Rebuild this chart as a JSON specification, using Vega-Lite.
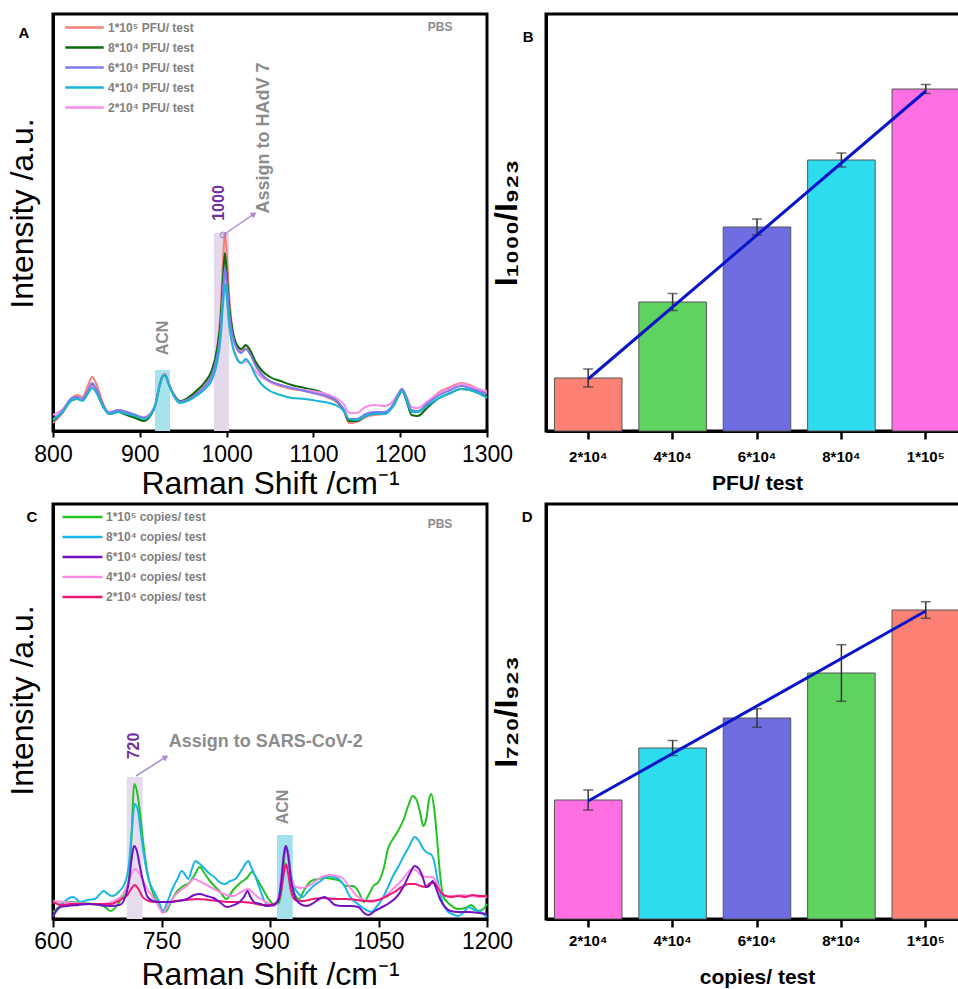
{
"$schema":"https://vega.github.io/schema/vega-lite/v6.json",
"padding":{"left":4,"top":12,"right":0,"bottom":0},
"background":"white",
"config":{"font":"Liberation Sans","view":{"stroke":"black","strokeWidth":3},
"axis":{"grid":false,"domainColor":"black","domainWidth":3,"labelColor":"black","titleColor":"black","tickColor":"black"},
"legend":{"padding":0}},
"columns":2,
"spacing":{"row":73,"column":59},
"bounds":"flush",
"resolve":{"scale":{"color":"independent","fill":"independent","x":"independent","y":"independent"},"legend":{"color":"independent","fill":"independent"}},
"concat":[
{"width":434,"height":417,
"encoding":{"x":{"field":"x","type":"quantitative","scale":{"domain":[800,1300],"nice":false},"axis":{"title":"Raman Shift /cm⁻¹","values":[800,900,1000,1100,1200,1300],"format":"d","tickSize":6,"tickWidth":2,"labelFontSize":23,"labelPadding":6,"labelFlush":false,"labelOverlap":false,"titleFontSize":32,"titleFontWeight":"normal","titlePadding":2}},
"y":{"field":"y","type":"quantitative","scale":{"domain":[0,417],"nice":false},"axis":{"title":"Intensity /a.u.","labels":false,"ticks":false,"titleFontSize":32,"titleFontWeight":"normal","titlePadding":14,"titleY":199}}},
"layer":[
{"data":{"values":[{"k":"acn","x":917.5,"x2":934.8,"y":0,"y2":61},{"k":"pk","x":985.5,"x2":1002.8,"y":0,"y2":198}]},"mark":{"type":"rect"},"encoding":{"x2":{"field":"x2"},"y2":{"field":"y2"},"fill":{"field":"k","type":"nominal","scale":{"domain":["acn","pk"],"range":["#a8e2ea","#e4d8ec"]},"legend":null}}},
{"data":{"values":[
{"s":"p5","x":800,"y":8},{"s":"p5","x":810,"y":17},{"s":"p5","x":822,"y":33},{"s":"p5","x":828,"y":36},{"s":"p5","x":834,"y":34},{"s":"p5","x":840,"y":45},{"s":"p5","x":845,"y":54},{"s":"p5","x":850,"y":47},{"s":"p5","x":857,"y":29},{"s":"p5","x":865,"y":17},{"s":"p5","x":875,"y":20},{"s":"p5","x":885,"y":18},{"s":"p5","x":895,"y":15},{"s":"p5","x":905,"y":12},{"s":"p5","x":912,"y":16},{"s":"p5","x":918,"y":27},{"s":"p5","x":922,"y":43},{"s":"p5","x":926,"y":55},{"s":"p5","x":929,"y":57},{"s":"p5","x":933,"y":48},{"s":"p5","x":939,"y":36},{"s":"p5","x":946,"y":29},{"s":"p5","x":955,"y":32},{"s":"p5","x":965,"y":39},{"s":"p5","x":975,"y":48},{"s":"p5","x":983,"y":60},{"s":"p5","x":989,"y":82},{"s":"p5","x":993,"y":118},{"s":"p5","x":996,"y":172},{"s":"p5","x":998,"y":198},{"s":"p5","x":1000,"y":180},{"s":"p5","x":1003,"y":135},{"s":"p5","x":1007,"y":100},{"s":"p5","x":1012,"y":84},{"s":"p5","x":1017,"y":80},{"s":"p5","x":1022,"y":85},{"s":"p5","x":1027,"y":79},{"s":"p5","x":1033,"y":67},{"s":"p5","x":1040,"y":57},{"s":"p5","x":1050,"y":49},{"s":"p5","x":1062,"y":45},{"s":"p5","x":1075,"y":42},{"s":"p5","x":1090,"y":40},{"s":"p5","x":1105,"y":37},{"s":"p5","x":1118,"y":33},{"s":"p5","x":1128,"y":28},{"s":"p5","x":1135,"y":20},{"s":"p5","x":1141,"y":8},{"s":"p5","x":1150,"y":9},{"s":"p5","x":1160,"y":14},{"s":"p5","x":1170,"y":16},{"s":"p5","x":1182,"y":17},{"s":"p5","x":1192,"y":26},{"s":"p5","x":1198,"y":37},{"s":"p5","x":1202,"y":42},{"s":"p5","x":1207,"y":33},{"s":"p5","x":1213,"y":19},{"s":"p5","x":1220,"y":19},{"s":"p5","x":1232,"y":29},{"s":"p5","x":1245,"y":39},{"s":"p5","x":1258,"y":44},{"s":"p5","x":1270,"y":48},{"s":"p5","x":1280,"y":46},{"s":"p5","x":1290,"y":42},{"s":"p5","x":1300,"y":38},
{"s":"p8","x":800,"y":10},{"s":"p8","x":810,"y":18},{"s":"p8","x":822,"y":31},{"s":"p8","x":828,"y":32},{"s":"p8","x":834,"y":31},{"s":"p8","x":840,"y":39},{"s":"p8","x":845,"y":46},{"s":"p8","x":850,"y":41},{"s":"p8","x":857,"y":27},{"s":"p8","x":865,"y":17},{"s":"p8","x":875,"y":19},{"s":"p8","x":885,"y":16},{"s":"p8","x":895,"y":13},{"s":"p8","x":905,"y":10},{"s":"p8","x":912,"y":15},{"s":"p8","x":918,"y":26},{"s":"p8","x":922,"y":42},{"s":"p8","x":926,"y":54},{"s":"p8","x":929,"y":56},{"s":"p8","x":933,"y":48},{"s":"p8","x":939,"y":37},{"s":"p8","x":946,"y":30},{"s":"p8","x":955,"y":33},{"s":"p8","x":965,"y":40},{"s":"p8","x":975,"y":49},{"s":"p8","x":983,"y":61},{"s":"p8","x":989,"y":82},{"s":"p8","x":993,"y":110},{"s":"p8","x":996,"y":155},{"s":"p8","x":998,"y":178},{"s":"p8","x":1000,"y":160},{"s":"p8","x":1003,"y":125},{"s":"p8","x":1007,"y":100},{"s":"p8","x":1012,"y":86},{"s":"p8","x":1017,"y":82},{"s":"p8","x":1022,"y":86},{"s":"p8","x":1027,"y":81},{"s":"p8","x":1033,"y":70},{"s":"p8","x":1040,"y":61},{"s":"p8","x":1050,"y":54},{"s":"p8","x":1062,"y":50},{"s":"p8","x":1075,"y":46},{"s":"p8","x":1090,"y":43},{"s":"p8","x":1105,"y":40},{"s":"p8","x":1118,"y":35},{"s":"p8","x":1128,"y":29},{"s":"p8","x":1135,"y":21},{"s":"p8","x":1141,"y":10},{"s":"p8","x":1150,"y":10},{"s":"p8","x":1160,"y":15},{"s":"p8","x":1170,"y":18},{"s":"p8","x":1182,"y":18},{"s":"p8","x":1192,"y":25},{"s":"p8","x":1198,"y":35},{"s":"p8","x":1202,"y":40},{"s":"p8","x":1207,"y":31},{"s":"p8","x":1213,"y":16},{"s":"p8","x":1220,"y":15},{"s":"p8","x":1232,"y":24},{"s":"p8","x":1245,"y":33},{"s":"p8","x":1258,"y":38},{"s":"p8","x":1270,"y":42},{"s":"p8","x":1280,"y":41},{"s":"p8","x":1290,"y":38},{"s":"p8","x":1300,"y":34},
{"s":"p2","x":800,"y":16},{"s":"p2","x":810,"y":21},{"s":"p2","x":822,"y":32},{"s":"p2","x":828,"y":33},{"s":"p2","x":834,"y":31},{"s":"p2","x":840,"y":38},{"s":"p2","x":845,"y":45},{"s":"p2","x":850,"y":40},{"s":"p2","x":857,"y":26},{"s":"p2","x":865,"y":19},{"s":"p2","x":875,"y":21},{"s":"p2","x":885,"y":19},{"s":"p2","x":895,"y":16},{"s":"p2","x":905,"y":14},{"s":"p2","x":912,"y":17},{"s":"p2","x":918,"y":27},{"s":"p2","x":922,"y":42},{"s":"p2","x":926,"y":54},{"s":"p2","x":929,"y":56},{"s":"p2","x":933,"y":48},{"s":"p2","x":939,"y":36},{"s":"p2","x":946,"y":29},{"s":"p2","x":955,"y":31},{"s":"p2","x":965,"y":36},{"s":"p2","x":975,"y":44},{"s":"p2","x":983,"y":54},{"s":"p2","x":989,"y":72},{"s":"p2","x":993,"y":98},{"s":"p2","x":996,"y":138},{"s":"p2","x":998,"y":158},{"s":"p2","x":1000,"y":145},{"s":"p2","x":1003,"y":110},{"s":"p2","x":1007,"y":86},{"s":"p2","x":1012,"y":73},{"s":"p2","x":1017,"y":68},{"s":"p2","x":1022,"y":70},{"s":"p2","x":1027,"y":67},{"s":"p2","x":1033,"y":60},{"s":"p2","x":1040,"y":54},{"s":"p2","x":1050,"y":49},{"s":"p2","x":1062,"y":46},{"s":"p2","x":1075,"y":43},{"s":"p2","x":1090,"y":41},{"s":"p2","x":1105,"y":39},{"s":"p2","x":1118,"y":36},{"s":"p2","x":1128,"y":32},{"s":"p2","x":1135,"y":27},{"s":"p2","x":1141,"y":18},{"s":"p2","x":1150,"y":18},{"s":"p2","x":1160,"y":24},{"s":"p2","x":1170,"y":26},{"s":"p2","x":1182,"y":25},{"s":"p2","x":1192,"y":30},{"s":"p2","x":1198,"y":38},{"s":"p2","x":1202,"y":42},{"s":"p2","x":1207,"y":35},{"s":"p2","x":1213,"y":24},{"s":"p2","x":1220,"y":23},{"s":"p2","x":1232,"y":30},{"s":"p2","x":1245,"y":38},{"s":"p2","x":1258,"y":43},{"s":"p2","x":1270,"y":47},{"s":"p2","x":1280,"y":45},{"s":"p2","x":1290,"y":42},{"s":"p2","x":1300,"y":40},
{"s":"p6","x":800,"y":12},{"s":"p6","x":810,"y":19},{"s":"p6","x":822,"y":33},{"s":"p6","x":828,"y":34},{"s":"p6","x":834,"y":32},{"s":"p6","x":840,"y":40},{"s":"p6","x":845,"y":48},{"s":"p6","x":850,"y":42},{"s":"p6","x":857,"y":27},{"s":"p6","x":865,"y":18},{"s":"p6","x":875,"y":21},{"s":"p6","x":885,"y":19},{"s":"p6","x":895,"y":16},{"s":"p6","x":905,"y":13},{"s":"p6","x":912,"y":17},{"s":"p6","x":918,"y":27},{"s":"p6","x":922,"y":43},{"s":"p6","x":926,"y":55},{"s":"p6","x":929,"y":56},{"s":"p6","x":933,"y":48},{"s":"p6","x":939,"y":36},{"s":"p6","x":946,"y":29},{"s":"p6","x":955,"y":31},{"s":"p6","x":965,"y":37},{"s":"p6","x":975,"y":45},{"s":"p6","x":983,"y":56},{"s":"p6","x":989,"y":75},{"s":"p6","x":993,"y":100},{"s":"p6","x":996,"y":140},{"s":"p6","x":998,"y":163},{"s":"p6","x":1000,"y":150},{"s":"p6","x":1003,"y":118},{"s":"p6","x":1007,"y":95},{"s":"p6","x":1012,"y":82},{"s":"p6","x":1017,"y":78},{"s":"p6","x":1022,"y":82},{"s":"p6","x":1027,"y":77},{"s":"p6","x":1033,"y":66},{"s":"p6","x":1040,"y":57},{"s":"p6","x":1050,"y":50},{"s":"p6","x":1062,"y":46},{"s":"p6","x":1075,"y":43},{"s":"p6","x":1090,"y":40},{"s":"p6","x":1105,"y":37},{"s":"p6","x":1118,"y":34},{"s":"p6","x":1128,"y":29},{"s":"p6","x":1135,"y":22},{"s":"p6","x":1141,"y":12},{"s":"p6","x":1150,"y":12},{"s":"p6","x":1160,"y":17},{"s":"p6","x":1170,"y":19},{"s":"p6","x":1182,"y":19},{"s":"p6","x":1192,"y":27},{"s":"p6","x":1198,"y":37},{"s":"p6","x":1202,"y":42},{"s":"p6","x":1207,"y":34},{"s":"p6","x":1213,"y":21},{"s":"p6","x":1220,"y":20},{"s":"p6","x":1232,"y":28},{"s":"p6","x":1245,"y":36},{"s":"p6","x":1258,"y":41},{"s":"p6","x":1270,"y":45},{"s":"p6","x":1280,"y":43},{"s":"p6","x":1290,"y":40},{"s":"p6","x":1300,"y":37},
{"s":"p4","x":800,"y":11},{"s":"p4","x":810,"y":18},{"s":"p4","x":822,"y":31},{"s":"p4","x":828,"y":32},{"s":"p4","x":834,"y":30},{"s":"p4","x":840,"y":37},{"s":"p4","x":845,"y":43},{"s":"p4","x":850,"y":38},{"s":"p4","x":857,"y":25},{"s":"p4","x":865,"y":17},{"s":"p4","x":875,"y":19},{"s":"p4","x":885,"y":17},{"s":"p4","x":895,"y":15},{"s":"p4","x":905,"y":12},{"s":"p4","x":912,"y":16},{"s":"p4","x":918,"y":26},{"s":"p4","x":922,"y":42},{"s":"p4","x":926,"y":54},{"s":"p4","x":929,"y":56},{"s":"p4","x":933,"y":47},{"s":"p4","x":939,"y":35},{"s":"p4","x":946,"y":28},{"s":"p4","x":955,"y":30},{"s":"p4","x":965,"y":35},{"s":"p4","x":975,"y":42},{"s":"p4","x":983,"y":51},{"s":"p4","x":989,"y":68},{"s":"p4","x":993,"y":92},{"s":"p4","x":996,"y":128},{"s":"p4","x":998,"y":147},{"s":"p4","x":1000,"y":135},{"s":"p4","x":1003,"y":105},{"s":"p4","x":1007,"y":84},{"s":"p4","x":1012,"y":72},{"s":"p4","x":1017,"y":68},{"s":"p4","x":1022,"y":72},{"s":"p4","x":1027,"y":67},{"s":"p4","x":1033,"y":56},{"s":"p4","x":1040,"y":47},{"s":"p4","x":1050,"y":40},{"s":"p4","x":1062,"y":36},{"s":"p4","x":1075,"y":33},{"s":"p4","x":1090,"y":32},{"s":"p4","x":1105,"y":30},{"s":"p4","x":1118,"y":28},{"s":"p4","x":1128,"y":25},{"s":"p4","x":1135,"y":20},{"s":"p4","x":1141,"y":12},{"s":"p4","x":1150,"y":11},{"s":"p4","x":1160,"y":15},{"s":"p4","x":1170,"y":17},{"s":"p4","x":1182,"y":17},{"s":"p4","x":1192,"y":25},{"s":"p4","x":1198,"y":35},{"s":"p4","x":1202,"y":40},{"s":"p4","x":1207,"y":32},{"s":"p4","x":1213,"y":19},{"s":"p4","x":1220,"y":19},{"s":"p4","x":1232,"y":26},{"s":"p4","x":1245,"y":33},{"s":"p4","x":1258,"y":38},{"s":"p4","x":1270,"y":42},{"s":"p4","x":1280,"y":41},{"s":"p4","x":1290,"y":38},{"s":"p4","x":1300,"y":33}
]},
"mark":{"type":"line","strokeWidth":2,"interpolate":"monotone"},
"encoding":{"color":{"field":"s","type":"nominal","scale":{"domain":["p5","p8","p6","p4","p2"],"range":["#f87e78","#0b6b0b","#7b7bee","#19b5d3","#f98ce8"]},
"legend":{"orient":"none","legendX":18,"legendY":0,"title":null,"symbolType":"M-1.6,0H1.6","symbolSize":576,"symbolStrokeWidth":2.5,"labelFontSize":12,"labelFontWeight":"bold","labelColor":"#808080","labelOffset":10,"rowPadding":0,
"labelExpr":"datum.label=='p5'?'1*10⁵ PFU/ test':datum.label=='p8'?'8*10⁴ PFU/ test':datum.label=='p6'?'6*10⁴ PFU/ test':datum.label=='p4'?'4*10⁴ PFU/ test':'2*10⁴ PFU/ test'"}}}},
{"data":{"values":[{"x":996,"y":196,"x2":1031.6,"y2":217}]},"mark":{"type":"rule","color":"#a98cd0","strokeWidth":1.5},"encoding":{"x2":{"field":"x2"},"y2":{"field":"y2"}}},
{"data":{"values":[{"x":996,"y":196}]},"mark":{"type":"point","shape":"circle","filled":false,"color":"#9a7cc4","size":30,"strokeWidth":1.3},"encoding":{}},
{"data":{"values":[{"x":1031.6,"y":217}]},"mark":{"type":"point","shape":"triangle-up","filled":true,"color":"#a98cd0","size":45,"angle":56,"opacity":1},"encoding":{}},
{"data":{"values":[{"x":926.7,"y":93,"t":"ACN"}]},"mark":{"type":"text","angle":270,"fontSize":16,"fontWeight":"bold","color":"#8c8c8c","align":"center","baseline":"middle"},"encoding":{"text":{"field":"t"}}},
{"data":{"values":[{"x":1043,"y":293,"t":"Assign to HAdV 7"}]},"mark":{"type":"text","angle":270,"fontSize":18,"fontWeight":"bold","color":"#8c8c8c","align":"center","baseline":"middle"},"encoding":{"text":{"field":"t"}}},
{"data":{"values":[{"x":991,"y":228,"t":"1000"}]},"mark":{"type":"text","angle":270,"fontSize":16,"fontWeight":"bold","color":"#7030a0","align":"center","baseline":"middle"},"encoding":{"text":{"field":"t"}}},
{"data":{"values":[{"x":1246,"y":404,"t":"PBS"}]},"mark":{"type":"text","fontSize":12,"fontWeight":"bold","color":"#8c8c8c","align":"center","baseline":"middle"},"encoding":{"text":{"field":"t"}}},
{"data":{"values":[{"x":766.6,"y":398,"t":"A"}]},"mark":{"type":"text","fontSize":15,"fontWeight":"bold","color":"black","align":"center","baseline":"middle"},"encoding":{"text":{"field":"t"}}}
]},
{"width":422,"height":417,
"data":{"values":[{"c":"2*10⁴","v":0.53,"e":0.09},{"c":"4*10⁴","v":1.29,"e":0.085},{"c":"6*10⁴","v":2.04,"e":0.08},{"c":"8*10⁴","v":2.71,"e":0.07},{"c":"1*10⁵","v":3.42,"e":0.045}]},
"encoding":{"x":{"field":"c","type":"nominal","sort":null,"scale":{"domain":["2*10⁴","4*10⁴","6*10⁴","8*10⁴","1*10⁵"],"paddingInner":0.2,"paddingOuter":0.1},"axis":{"title":"PFU/ test","labelAngle":0,"labelFontSize":15,"labelFontWeight":"bold","labelPadding":10,"tickSize":8,"tickWidth":2.5,"titleFontSize":21,"titleFontWeight":"bold","titlePadding":8}},
"y":{"field":"v","type":"quantitative","scale":{"domain":[0,4.17],"nice":false},"axis":{"title":"I₁₀₀₀/I₉₂₃","labels":false,"ticks":false,"titleFontSize":32,"titleFontWeight":"bold","titlePadding":23}}},
"layer":[
{"mark":{"type":"bar","stroke":"#555555","strokeWidth":1},"encoding":{"fill":{"field":"c","type":"nominal","scale":{"domain":["2*10⁴","4*10⁴","6*10⁴","8*10⁴","1*10⁵"],"range":["#fc8074","#5fd35f","#6e6ee2","#2edcf0","#ff6fe2"]},"legend":null}}},
{"mark":{"type":"errorbar","ticks":{"size":10,"thickness":1.5},"color":"#333333","rule":{"strokeWidth":1.5}},"encoding":{"yError":{"field":"e"}}},
{"data":{"values":[{"c":"2*10⁴","v":0.52},{"c":"1*10⁵","v":3.40}]},"mark":{"type":"line","color":"#0a14c8","strokeWidth":3},"encoding":{}},
{"data":{"values":[{"c":"2*10⁴","v":3.94,"t":"B"}]},"mark":{"type":"text","dx":-60,"fontSize":15,"fontWeight":"bold","color":"black","align":"center","baseline":"middle"},"encoding":{"text":{"field":"t"}}}
]},
{"width":434,"height":415,
"encoding":{"x":{"field":"x","type":"quantitative","scale":{"domain":[600,1200],"nice":false},"axis":{"title":"Raman Shift /cm⁻¹","values":[600,750,900,1050,1200],"format":"d","tickSize":8,"tickWidth":2,"labelFontSize":23,"labelPadding":3,"labelFlush":false,"labelOverlap":false,"titleFontSize":32,"titleFontWeight":"normal","titlePadding":6}},
"y":{"field":"y","type":"quantitative","scale":{"domain":[0,415],"nice":false},"axis":{"title":"Intensity /a.u.","labels":false,"ticks":false,"titleFontSize":32,"titleFontWeight":"normal","titlePadding":14,"titleY":196}}},
"layer":[
{"data":{"values":[{"k":"pk","x":702,"x2":724,"y":0,"y2":142},{"k":"acn","x":909.7,"x2":931.4,"y":0,"y2":84}]},"mark":{"type":"rect"},"encoding":{"x2":{"field":"x2"},"y2":{"field":"y2"},"fill":{"field":"k","type":"nominal","scale":{"domain":["acn","pk"],"range":["#a2e0ea","#e6dcee"]},"legend":null}}},
{"data":{"values":[
{"s":"c5","x":600,"y":7},{"s":"c5","x":608,"y":12},{"s":"c5","x":615,"y":17},{"s":"c5","x":625,"y":17},{"s":"c5","x":640,"y":16},{"s":"c5","x":655,"y":15},{"s":"c5","x":670,"y":13},{"s":"c5","x":680,"y":8},{"s":"c5","x":690,"y":15},{"s":"c5","x":698,"y":25},{"s":"c5","x":705,"y":40},{"s":"c5","x":709,"y":90},{"s":"c5","x":712,"y":135},{"s":"c5","x":716,"y":128},{"s":"c5","x":720,"y":108},{"s":"c5","x":725,"y":75},{"s":"c5","x":730,"y":48},{"s":"c5","x":737,"y":28},{"s":"c5","x":745,"y":15},{"s":"c5","x":755,"y":7},{"s":"c5","x":765,"y":20},{"s":"c5","x":772,"y":28},{"s":"c5","x":780,"y":33},{"s":"c5","x":788,"y":36},{"s":"c5","x":795,"y":43},{"s":"c5","x":803,"y":52},{"s":"c5","x":810,"y":45},{"s":"c5","x":818,"y":37},{"s":"c5","x":830,"y":28},{"s":"c5","x":840,"y":20},{"s":"c5","x":848,"y":28},{"s":"c5","x":857,"y":35},{"s":"c5","x":868,"y":41},{"s":"c5","x":875,"y":47},{"s":"c5","x":882,"y":40},{"s":"c5","x":890,"y":30},{"s":"c5","x":898,"y":20},{"s":"c5","x":905,"y":15},{"s":"c5","x":912,"y":16},{"s":"c5","x":916,"y":30},{"s":"c5","x":919,"y":55},{"s":"c5","x":922,"y":73},{"s":"c5","x":925,"y":65},{"s":"c5","x":929,"y":42},{"s":"c5","x":934,"y":25},{"s":"c5","x":940,"y":20},{"s":"c5","x":948,"y":30},{"s":"c5","x":957,"y":38},{"s":"c5","x":967,"y":40},{"s":"c5","x":977,"y":41},{"s":"c5","x":987,"y":40},{"s":"c5","x":997,"y":38},{"s":"c5","x":1005,"y":33},{"s":"c5","x":1015,"y":33},{"s":"c5","x":1022,"y":28},{"s":"c5","x":1030,"y":17},{"s":"c5","x":1037,"y":25},{"s":"c5","x":1043,"y":33},{"s":"c5","x":1050,"y":37},{"s":"c5","x":1057,"y":50},{"s":"c5","x":1063,"y":70},{"s":"c5","x":1070,"y":80},{"s":"c5","x":1077,"y":88},{"s":"c5","x":1085,"y":100},{"s":"c5","x":1092,"y":115},{"s":"c5","x":1097,"y":123},{"s":"c5","x":1102,"y":120},{"s":"c5","x":1107,"y":108},{"s":"c5","x":1112,"y":93},{"s":"c5","x":1116,"y":100},{"s":"c5","x":1120,"y":120},{"s":"c5","x":1123,"y":125},{"s":"c5","x":1127,"y":110},{"s":"c5","x":1131,"y":80},{"s":"c5","x":1135,"y":45},{"s":"c5","x":1140,"y":22},{"s":"c5","x":1148,"y":15},{"s":"c5","x":1160,"y":10},{"s":"c5","x":1170,"y":11},{"s":"c5","x":1178,"y":14},{"s":"c5","x":1188,"y":8},{"s":"c5","x":1195,"y":10},{"s":"c5","x":1200,"y":15},
{"s":"c8","x":600,"y":3},{"s":"c8","x":605,"y":8},{"s":"c8","x":612,"y":14},{"s":"c8","x":620,"y":20},{"s":"c8","x":628,"y":22},{"s":"c8","x":638,"y":17},{"s":"c8","x":648,"y":19},{"s":"c8","x":658,"y":20},{"s":"c8","x":665,"y":25},{"s":"c8","x":670,"y":28},{"s":"c8","x":676,"y":25},{"s":"c8","x":682,"y":23},{"s":"c8","x":692,"y":28},{"s":"c8","x":700,"y":37},{"s":"c8","x":705,"y":55},{"s":"c8","x":709,"y":88},{"s":"c8","x":713,"y":115},{"s":"c8","x":717,"y":110},{"s":"c8","x":722,"y":83},{"s":"c8","x":727,"y":58},{"s":"c8","x":732,"y":40},{"s":"c8","x":740,"y":27},{"s":"c8","x":746,"y":18},{"s":"c8","x":752,"y":8},{"s":"c8","x":758,"y":17},{"s":"c8","x":765,"y":30},{"s":"c8","x":772,"y":40},{"s":"c8","x":778,"y":48},{"s":"c8","x":783,"y":44},{"s":"c8","x":787,"y":40},{"s":"c8","x":792,"y":50},{"s":"c8","x":797,"y":58},{"s":"c8","x":803,"y":55},{"s":"c8","x":810,"y":50},{"s":"c8","x":817,"y":45},{"s":"c8","x":823,"y":42},{"s":"c8","x":830,"y":37},{"s":"c8","x":837,"y":35},{"s":"c8","x":845,"y":38},{"s":"c8","x":852,"y":40},{"s":"c8","x":860,"y":48},{"s":"c8","x":867,"y":56},{"s":"c8","x":870,"y":58},{"s":"c8","x":874,"y":52},{"s":"c8","x":880,"y":42},{"s":"c8","x":887,"y":28},{"s":"c8","x":893,"y":17},{"s":"c8","x":900,"y":14},{"s":"c8","x":907,"y":15},{"s":"c8","x":912,"y":22},{"s":"c8","x":917,"y":50},{"s":"c8","x":921,"y":73},{"s":"c8","x":924,"y":70},{"s":"c8","x":928,"y":48},{"s":"c8","x":933,"y":33},{"s":"c8","x":940,"y":25},{"s":"c8","x":945,"y":22},{"s":"c8","x":952,"y":27},{"s":"c8","x":960,"y":33},{"s":"c8","x":970,"y":38},{"s":"c8","x":980,"y":43},{"s":"c8","x":988,"y":42},{"s":"c8","x":995,"y":40},{"s":"c8","x":1003,"y":33},{"s":"c8","x":1010,"y":23},{"s":"c8","x":1018,"y":17},{"s":"c8","x":1025,"y":13},{"s":"c8","x":1033,"y":9},{"s":"c8","x":1040,"y":7},{"s":"c8","x":1047,"y":12},{"s":"c8","x":1055,"y":20},{"s":"c8","x":1062,"y":30},{"s":"c8","x":1070,"y":43},{"s":"c8","x":1078,"y":53},{"s":"c8","x":1085,"y":63},{"s":"c8","x":1092,"y":72},{"s":"c8","x":1100,"y":82},{"s":"c8","x":1106,"y":78},{"s":"c8","x":1112,"y":70},{"s":"c8","x":1118,"y":66},{"s":"c8","x":1122,"y":65},{"s":"c8","x":1126,"y":60},{"s":"c8","x":1132,"y":38},{"s":"c8","x":1138,"y":18},{"s":"c8","x":1145,"y":8},{"s":"c8","x":1152,"y":5},{"s":"c8","x":1160,"y":3},{"s":"c8","x":1168,"y":7},{"s":"c8","x":1175,"y":12},{"s":"c8","x":1182,"y":9},{"s":"c8","x":1190,"y":8},{"s":"c8","x":1196,"y":4},{"s":"c8","x":1200,"y":2},
{"s":"c4","x":600,"y":18},{"s":"c4","x":615,"y":17},{"s":"c4","x":630,"y":16},{"s":"c4","x":650,"y":15},{"s":"c4","x":668,"y":15},{"s":"c4","x":685,"y":18},{"s":"c4","x":697,"y":25},{"s":"c4","x":705,"y":38},{"s":"c4","x":709,"y":46},{"s":"c4","x":713,"y":50},{"s":"c4","x":718,"y":47},{"s":"c4","x":723,"y":41},{"s":"c4","x":730,"y":30},{"s":"c4","x":738,"y":22},{"s":"c4","x":745,"y":14},{"s":"c4","x":752,"y":6},{"s":"c4","x":758,"y":12},{"s":"c4","x":765,"y":20},{"s":"c4","x":775,"y":28},{"s":"c4","x":785,"y":33},{"s":"c4","x":795,"y":40},{"s":"c4","x":802,"y":38},{"s":"c4","x":810,"y":35},{"s":"c4","x":820,"y":31},{"s":"c4","x":830,"y":27},{"s":"c4","x":840,"y":24},{"s":"c4","x":850,"y":23},{"s":"c4","x":860,"y":27},{"s":"c4","x":870,"y":30},{"s":"c4","x":878,"y":25},{"s":"c4","x":887,"y":20},{"s":"c4","x":897,"y":16},{"s":"c4","x":905,"y":13},{"s":"c4","x":912,"y":20},{"s":"c4","x":916,"y":42},{"s":"c4","x":919,"y":63},{"s":"c4","x":922,"y":72},{"s":"c4","x":925,"y":63},{"s":"c4","x":929,"y":42},{"s":"c4","x":934,"y":33},{"s":"c4","x":942,"y":31},{"s":"c4","x":950,"y":32},{"s":"c4","x":958,"y":35},{"s":"c4","x":967,"y":40},{"s":"c4","x":975,"y":43},{"s":"c4","x":983,"y":44},{"s":"c4","x":992,"y":43},{"s":"c4","x":1000,"y":41},{"s":"c4","x":1010,"y":32},{"s":"c4","x":1020,"y":23},{"s":"c4","x":1030,"y":19},{"s":"c4","x":1040,"y":17},{"s":"c4","x":1050,"y":19},{"s":"c4","x":1060,"y":23},{"s":"c4","x":1070,"y":30},{"s":"c4","x":1080,"y":37},{"s":"c4","x":1088,"y":44},{"s":"c4","x":1096,"y":50},{"s":"c4","x":1103,"y":48},{"s":"c4","x":1110,"y":43},{"s":"c4","x":1118,"y":42},{"s":"c4","x":1125,"y":42},{"s":"c4","x":1130,"y":37},{"s":"c4","x":1136,"y":28},{"s":"c4","x":1143,"y":23},{"s":"c4","x":1155,"y":23},{"s":"c4","x":1165,"y":24},{"s":"c4","x":1175,"y":23},{"s":"c4","x":1188,"y":22},{"s":"c4","x":1200,"y":22},
{"s":"c2","x":600,"y":17},{"s":"c2","x":612,"y":14},{"s":"c2","x":625,"y":15},{"s":"c2","x":640,"y":15},{"s":"c2","x":660,"y":15},{"s":"c2","x":680,"y":15},{"s":"c2","x":695,"y":20},{"s":"c2","x":703,"y":24},{"s":"c2","x":708,"y":30},{"s":"c2","x":713,"y":34},{"s":"c2","x":718,"y":30},{"s":"c2","x":724,"y":22},{"s":"c2","x":732,"y":18},{"s":"c2","x":742,"y":17},{"s":"c2","x":755,"y":17},{"s":"c2","x":770,"y":18},{"s":"c2","x":785,"y":19},{"s":"c2","x":800,"y":20},{"s":"c2","x":815,"y":19},{"s":"c2","x":830,"y":18},{"s":"c2","x":845,"y":17},{"s":"c2","x":860,"y":17},{"s":"c2","x":875,"y":16},{"s":"c2","x":890,"y":14},{"s":"c2","x":900,"y":14},{"s":"c2","x":910,"y":17},{"s":"c2","x":915,"y":26},{"s":"c2","x":919,"y":45},{"s":"c2","x":922,"y":55},{"s":"c2","x":925,"y":46},{"s":"c2","x":929,"y":28},{"s":"c2","x":935,"y":19},{"s":"c2","x":945,"y":18},{"s":"c2","x":960,"y":20},{"s":"c2","x":975,"y":21},{"s":"c2","x":990,"y":20},{"s":"c2","x":1005,"y":20},{"s":"c2","x":1020,"y":19},{"s":"c2","x":1035,"y":18},{"s":"c2","x":1050,"y":19},{"s":"c2","x":1062,"y":23},{"s":"c2","x":1072,"y":27},{"s":"c2","x":1082,"y":32},{"s":"c2","x":1092,"y":35},{"s":"c2","x":1100,"y":35},{"s":"c2","x":1108,"y":33},{"s":"c2","x":1115,"y":32},{"s":"c2","x":1122,"y":36},{"s":"c2","x":1127,"y":36},{"s":"c2","x":1133,"y":30},{"s":"c2","x":1140,"y":24},{"s":"c2","x":1150,"y":22},{"s":"c2","x":1160,"y":23},{"s":"c2","x":1170,"y":22},{"s":"c2","x":1180,"y":24},{"s":"c2","x":1190,"y":23},{"s":"c2","x":1200,"y":23},
{"s":"c6","x":600,"y":2},{"s":"c6","x":604,"y":8},{"s":"c6","x":610,"y":12},{"s":"c6","x":620,"y":13},{"s":"c6","x":635,"y":14},{"s":"c6","x":650,"y":15},{"s":"c6","x":665,"y":14},{"s":"c6","x":680,"y":13},{"s":"c6","x":692,"y":14},{"s":"c6","x":700,"y":22},{"s":"c6","x":705,"y":38},{"s":"c6","x":709,"y":62},{"s":"c6","x":712,"y":73},{"s":"c6","x":716,"y":68},{"s":"c6","x":720,"y":53},{"s":"c6","x":725,"y":36},{"s":"c6","x":730,"y":23},{"s":"c6","x":738,"y":18},{"s":"c6","x":748,"y":17},{"s":"c6","x":760,"y":17},{"s":"c6","x":772,"y":18},{"s":"c6","x":785,"y":20},{"s":"c6","x":795,"y":24},{"s":"c6","x":803,"y":25},{"s":"c6","x":812,"y":23},{"s":"c6","x":822,"y":21},{"s":"c6","x":832,"y":16},{"s":"c6","x":840,"y":12},{"s":"c6","x":850,"y":14},{"s":"c6","x":858,"y":17},{"s":"c6","x":864,"y":22},{"s":"c6","x":869,"y":28},{"s":"c6","x":873,"y":22},{"s":"c6","x":878,"y":17},{"s":"c6","x":887,"y":15},{"s":"c6","x":895,"y":13},{"s":"c6","x":905,"y":14},{"s":"c6","x":912,"y":20},{"s":"c6","x":916,"y":40},{"s":"c6","x":919,"y":63},{"s":"c6","x":922,"y":73},{"s":"c6","x":925,"y":64},{"s":"c6","x":929,"y":40},{"s":"c6","x":934,"y":23},{"s":"c6","x":940,"y":16},{"s":"c6","x":950,"y":13},{"s":"c6","x":960,"y":16},{"s":"c6","x":968,"y":20},{"s":"c6","x":975,"y":22},{"s":"c6","x":982,"y":19},{"s":"c6","x":990,"y":14},{"s":"c6","x":1000,"y":13},{"s":"c6","x":1012,"y":13},{"s":"c6","x":1022,"y":12},{"s":"c6","x":1030,"y":6},{"s":"c6","x":1036,"y":4},{"s":"c6","x":1045,"y":8},{"s":"c6","x":1055,"y":12},{"s":"c6","x":1065,"y":16},{"s":"c6","x":1075,"y":22},{"s":"c6","x":1085,"y":33},{"s":"c6","x":1093,"y":45},{"s":"c6","x":1100,"y":53},{"s":"c6","x":1106,"y":50},{"s":"c6","x":1111,"y":42},{"s":"c6","x":1116,"y":32},{"s":"c6","x":1120,"y":33},{"s":"c6","x":1125,"y":38},{"s":"c6","x":1129,"y":32},{"s":"c6","x":1135,"y":20},{"s":"c6","x":1142,"y":12},{"s":"c6","x":1150,"y":8},{"s":"c6","x":1160,"y":7},{"s":"c6","x":1175,"y":7},{"s":"c6","x":1190,"y":6},{"s":"c6","x":1200,"y":5}
]},
"mark":{"type":"line","strokeWidth":2,"interpolate":"monotone"},
"encoding":{"color":{"field":"s","type":"nominal","scale":{"domain":["c5","c8","c6","c4","c2"],"range":["#22c322","#19b6e6","#7410c4","#fc8ce4","#ec1873"]},
"legend":{"orient":"none","legendX":15.5,"legendY":-1,"title":null,"symbolType":"M-1.6,0H1.6","symbolSize":625,"symbolStrokeWidth":2.5,"labelFontSize":12,"labelFontWeight":"bold","labelColor":"#808080","labelOffset":9.5,"rowPadding":0,
"labelExpr":"datum.label=='c5'?'1*10⁵ copies/ test':datum.label=='c8'?'8*10⁴ copies/ test':datum.label=='c6'?'6*10⁴ copies/ test':datum.label=='c4'?'4*10⁴ copies/ test':'2*10⁴ copies/ test'"}}}},
{"data":{"values":[{"x":714.7,"y":143,"x2":756,"y2":162}]},"mark":{"type":"rule","color":"#a98cd0","strokeWidth":1.5},"encoding":{"x2":{"field":"x2"},"y2":{"field":"y2"}}},
{"data":{"values":[{"x":756,"y":162}]},"mark":{"type":"point","shape":"triangle-up","filled":true,"color":"#a98cd0","size":45,"angle":58,"opacity":1},"encoding":{}},
{"data":{"values":[{"x":918,"y":112,"t":"ACN"}]},"mark":{"type":"text","angle":270,"fontSize":16,"fontWeight":"bold","color":"#8c8c8c","align":"center","baseline":"middle"},"encoding":{"text":{"field":"t"}}},
{"data":{"values":[{"x":712,"y":173,"t":"720"}]},"mark":{"type":"text","angle":270,"fontSize":16,"fontWeight":"bold","color":"#7030a0","align":"center","baseline":"middle"},"encoding":{"text":{"field":"t"}}},
{"data":{"values":[{"x":760,"y":177,"t":"Assign to SARS-CoV-2"}]},"mark":{"type":"text","fontSize":18,"fontWeight":"bold","color":"#8c8c8c","align":"left","baseline":"middle"},"encoding":{"text":{"field":"t"}}},
{"data":{"values":[{"x":1135,"y":395,"t":"PBS"}]},"mark":{"type":"text","fontSize":12,"fontWeight":"bold","color":"#8c8c8c","align":"center","baseline":"middle"},"encoding":{"text":{"field":"t"}}},
{"data":{"values":[{"x":571,"y":402,"t":"C"}]},"mark":{"type":"text","fontSize":15,"fontWeight":"bold","color":"black","align":"center","baseline":"middle"},"encoding":{"text":{"field":"t"}}}
]},
{"width":422,"height":415,
"data":{"values":[{"c":"2*10⁴","v":1.19,"e":0.10},{"c":"4*10⁴","v":1.71,"e":0.075},{"c":"6*10⁴","v":2.01,"e":0.093},{"c":"8*10⁴","v":2.46,"e":0.283},{"c":"1*10⁵","v":3.09,"e":0.083}]},
"encoding":{"x":{"field":"c","type":"nominal","sort":null,"scale":{"domain":["2*10⁴","4*10⁴","6*10⁴","8*10⁴","1*10⁵"],"paddingInner":0.2,"paddingOuter":0.1},"axis":{"title":"copies/ test","labelAngle":0,"labelFontSize":15,"labelFontWeight":"bold","labelPadding":6,"tickSize":8,"tickWidth":2.5,"titleFontSize":21,"titleFontWeight":"bold","titlePadding":18}},
"y":{"field":"v","type":"quantitative","scale":{"domain":[0,4.15],"nice":false},"axis":{"title":"I₇₂₀/I₉₂₃","labels":false,"ticks":false,"titleFontSize":32,"titleFontWeight":"bold","titlePadding":23}}},
"layer":[
{"mark":{"type":"bar","stroke":"#555555","strokeWidth":1},"encoding":{"fill":{"field":"c","type":"nominal","scale":{"domain":["2*10⁴","4*10⁴","6*10⁴","8*10⁴","1*10⁵"],"range":["#ff6fe2","#2edcf0","#6e6ee2","#5fd35f","#fc8074"]},"legend":null}}},
{"mark":{"type":"errorbar","ticks":{"size":10,"thickness":1.5},"color":"#333333","rule":{"strokeWidth":1.5}},"encoding":{"yError":{"field":"e"}}},
{"data":{"values":[{"c":"2*10⁴","v":1.18},{"c":"1*10⁵","v":3.08}]},"mark":{"type":"line","color":"#0a14c8","strokeWidth":3},"encoding":{}},
{"data":{"values":[{"c":"2*10⁴","v":4.02,"t":"D"}]},"mark":{"type":"text","dx":-61,"fontSize":15,"fontWeight":"bold","color":"black","align":"center","baseline":"middle"},"encoding":{"text":{"field":"t"}}}
]}
]}
